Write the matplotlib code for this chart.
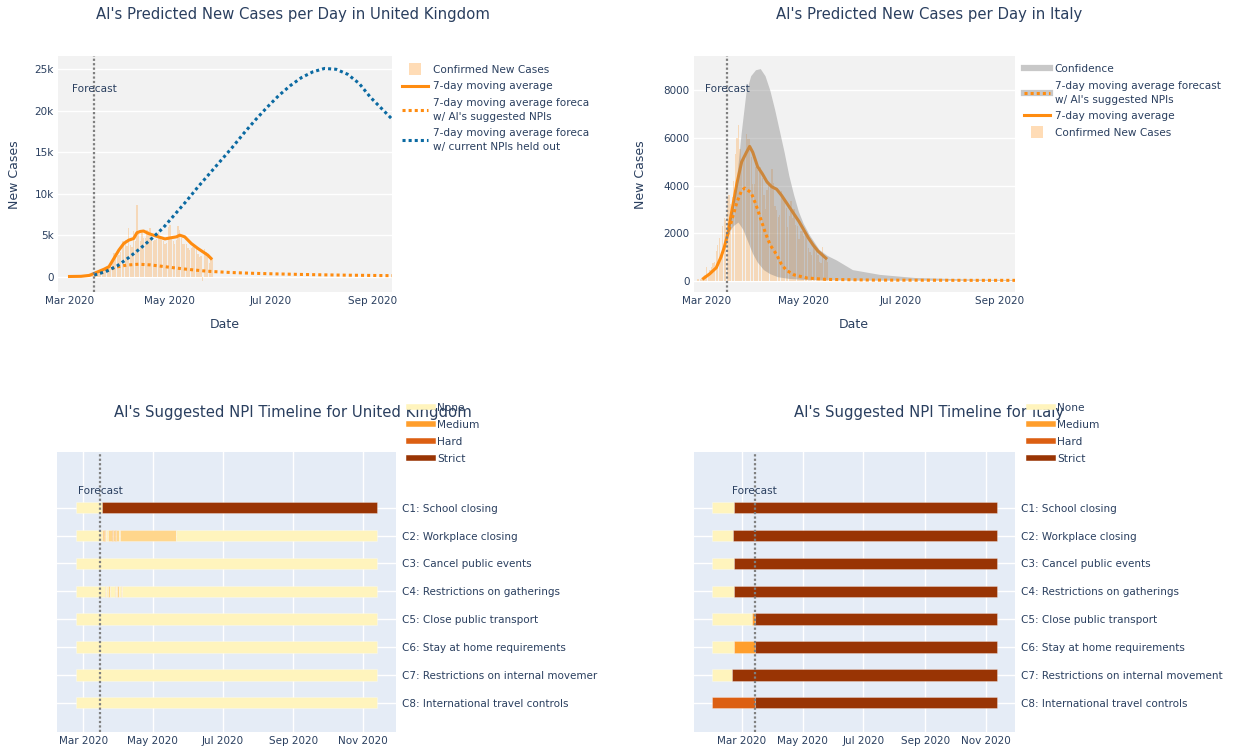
import numpy as np
import matplotlib
matplotlib.use("Agg")
import matplotlib.pyplot as plt
import matplotlib.dates as mdates
from matplotlib.lines import Line2D

plt.rcParams['font.family'] = ['DejaVu Sans']

# ---------------- data ----------------
# UK daily confirmed cases from 2020-03-01
uk_daily = [12, 4, 11, 34, 30, 48, 43, 67, 48, 52, 83, 134, 117, 208, 342, 251, 152, 407,
            680, 647, 706, 1035, 665, 967, 1427, 1452, 2129, 2885, 2546, 2433, 2619,
            3009, 4324, 4244, 4450, 3735, 5903, 3802, 3634, 5491, 4344, 8681, 5233, 4342,
            5252, 4603, 4617, 5599, 5525, 5850, 4676, 4301, 4451, 4583, 5386, 4913, 4463,
            4309, 3996, 4076, 6032,
            6201, 4806, 4339, 3985, 4406, 6111, 5614, 4649, 3896, 3923, 3877, 3403, 3242,
            3446, 3560, 3450, 3534, 2684, 2412, 2472, -525, 3287, 2959, 2409, 1625, 2415, 2086]
uk_ma_dates = ['2020-03-01', '2020-03-08', '2020-03-13', '2020-03-16', '2020-03-19', '2020-03-22',
               '2020-03-25', '2020-03-28', '2020-03-31', '2020-04-03', '2020-04-06', '2020-04-09',
               '2020-04-11', '2020-04-13', '2020-04-15', '2020-04-18', '2020-04-21', '2020-04-24',
               '2020-04-28', '2020-05-02', '2020-05-05', '2020-05-07', '2020-05-10', '2020-05-14',
               '2020-05-18', '2020-05-21', '2020-05-24', '2020-05-26']
uk_ma = [20, 40, 150, 400, 650, 900, 1200, 2200, 3200, 4000, 4400, 4600, 5300, 5450, 5500, 5200,
         5000, 4800, 4550, 4700, 4800, 5000, 4800, 4000, 3400, 3000, 2600, 2200]
uk_ai_dates = ['2020-03-16', '2020-03-22', '2020-03-29', '2020-04-05', '2020-04-12', '2020-04-19',
               '2020-04-26', '2020-05-03', '2020-05-10', '2020-05-17', '2020-05-24', '2020-06-07',
               '2020-06-21', '2020-07-05', '2020-07-19', '2020-08-02', '2020-08-16', '2020-08-30',
               '2020-09-13']
uk_ai = [200, 600, 1150, 1400, 1500, 1420, 1250, 1080, 920, 780, 650, 500, 400, 330, 270, 220,
         180, 150, 120]
uk_cur_dates = ['2020-03-16', '2020-03-23', '2020-03-30', '2020-04-06', '2020-04-13', '2020-04-20',
                '2020-04-27', '2020-05-04', '2020-05-11', '2020-05-18', '2020-05-25', '2020-06-01',
                '2020-06-08', '2020-06-15', '2020-06-22', '2020-06-29', '2020-07-06', '2020-07-13',
                '2020-07-20', '2020-07-27', '2020-08-03', '2020-08-10', '2020-08-17', '2020-08-24',
                '2020-08-31', '2020-09-07', '2020-09-13']
uk_cur = [200, 600, 1300, 2300, 3400, 4600, 5900, 7500, 9100, 10800, 12400, 14000, 15600, 17300,
          18900, 20400, 21800, 23000, 24000, 24700, 25100, 25000, 24400, 23300, 21600, 20200, 19000]

# Italy daily confirmed cases from 2020-02-24
it_daily = [78, 93, 97, 130, 200, 240,
            566, 342, 466, 587, 769, 778, 1247, 1492, 1797, 977, 2313, 2651, 2547, 3497, 3590,
            3233, 3526, 4207, 5322, 5986, 6557, 5560, 4789, 5249, 5210, 6153, 5959, 5974, 5217,
            4050, 4053,
            4782, 4668, 4585, 4805, 4316, 3599, 3039, 3836, 4204, 3951, 4694, 4092, 3153, 2972,
            2667, 2786, 3786, 3493, 3491, 3047, 2256, 2729, 3370, 2646, 3021, 2357, 2324, 1739,
            2091, 2086,
            1872, 1965, 1900, 1389, 1221, 1075, 1444, 1401, 1327, 1083, 802, 744, 1402, 888, 992, 789]
it_ma_dates = ['2020-02-28', '2020-03-03', '2020-03-07', '2020-03-10', '2020-03-12', '2020-03-14',
               '2020-03-17', '2020-03-20', '2020-03-23', '2020-03-26', '2020-03-28', '2020-03-30',
               '2020-04-02', '2020-04-05', '2020-04-08', '2020-04-11', '2020-04-14', '2020-04-17',
               '2020-04-20', '2020-04-22', '2020-04-25', '2020-04-28', '2020-05-01', '2020-05-04',
               '2020-05-07', '2020-05-10', '2020-05-15']
it_ma = [100, 300, 550, 1000, 1400, 1900, 3000, 4100, 5000, 5400, 5650, 5400, 4800, 4500, 4150,
         3950, 3850, 3600, 3300, 3100, 2800, 2500, 2150, 1800, 1500, 1250, 950]
it_ai_dates = ['2020-03-14', '2020-03-17', '2020-03-20', '2020-03-23', '2020-03-25', '2020-03-29',
               '2020-04-01', '2020-04-04', '2020-04-07', '2020-04-10', '2020-04-14', '2020-04-17',
               '2020-04-20', '2020-04-25', '2020-05-03', '2020-05-15', '2020-06-15', '2020-07-15',
               '2020-08-15', '2020-09-11']
it_ai = [1900, 2600, 3300, 3800, 3900, 3700, 3200, 2600, 2000, 1500, 1100, 700, 450, 250, 120,
         60, 30, 25, 20, 20]
it_lo_dates = ['2020-03-14', '2020-03-18', '2020-03-21', '2020-03-24', '2020-03-27', '2020-03-30',
               '2020-04-02', '2020-04-06', '2020-04-10', '2020-04-15', '2020-04-22', '2020-05-01',
               '2020-06-01', '2020-09-11']
it_lo = [1900, 2300, 2450, 2150, 1650, 1150, 780, 450, 280, 150, 80, 40, 10, 0]
it_hi_dates = ['2020-03-14', '2020-03-17', '2020-03-20', '2020-03-23', '2020-03-26', '2020-03-29',
               '2020-04-01', '2020-04-04', '2020-04-07', '2020-04-10', '2020-04-13', '2020-04-16',
               '2020-04-19', '2020-04-22', '2020-04-25', '2020-04-28', '2020-05-01', '2020-05-05',
               '2020-05-11', '2020-05-16', '2020-05-22', '2020-06-01', '2020-06-18', '2020-07-10',
               '2020-08-10', '2020-09-11']
it_hi = [2000, 2900, 4200, 6200, 7900, 8600, 8850, 8900, 8600, 8000, 7200, 6300, 5400, 4400, 3600,
         2900, 2400, 1900, 1300, 1050, 850, 450, 250, 120, 60, 30]

npi_names = ['C1: School closing', 'C2: Workplace closing', 'C3: Cancel public events',
             'C4: Restrictions on gatherings', 'C5: Close public transport',
             'C6: Stay at home requirements', 'C7: Restrictions on internal movement',
             'C8: International travel controls']
uk_npi_names = npi_names[:6] + ['C7: Restrictions on internal movemer'] + npi_names[7:]
levels = ['None', 'Low', 'Medium', 'Hard', 'Strict']
level_colors = ['#fff4bd', '#ffd68c', '#ff9e2c', '#dc5f12', '#993404']
legend_levels = ['None', 'Medium', 'Hard', 'Strict']

# each NPI: list of (start date, level); the last segment runs to the end date
uk_npi_end = '2020-11-13'
uk_npi = [
    [('2020-02-24', 'None'), ('2020-03-17', 'Strict')],
    [('2020-02-24', 'None'), ('2020-03-17', 'Low'), ('2020-03-19', 'Medium'), ('2020-03-20', 'Low'),
     ('2020-03-21', 'None'), ('2020-03-23', 'Low'), ('2020-03-26', 'Medium'), ('2020-03-27', 'Low'),
     ('2020-03-29', 'Medium'), ('2020-03-30', 'Low'), ('2020-04-01', 'None'), ('2020-04-02', 'Low'),
     ('2020-05-21', 'None')],
    [('2020-02-24', 'None')],
    [('2020-02-24', 'None'), ('2020-03-20', 'Low'), ('2020-03-21', 'None'), ('2020-03-23', 'Low'),
     ('2020-03-24', 'None'), ('2020-03-29', 'Low'), ('2020-03-30', 'None'), ('2020-03-31', 'Low'),
     ('2020-04-01', 'None'), ('2020-04-03', 'Low'), ('2020-04-04', 'None')],
    [('2020-02-24', 'None')],
    [('2020-02-24', 'None')],
    [('2020-02-24', 'None')],
    [('2020-02-24', 'None')],
]
it_npi_end = '2020-11-12'
it_npi = [
    [('2020-01-31', 'None'), ('2020-02-22', 'Strict')],
    [('2020-01-31', 'None'), ('2020-02-21', 'Strict')],
    [('2020-01-31', 'None'), ('2020-02-22', 'Strict')],
    [('2020-01-31', 'None'), ('2020-02-22', 'Strict')],
    [('2020-01-31', 'None'), ('2020-03-11', 'Medium'), ('2020-03-14', 'Strict')],
    [('2020-01-31', 'None'), ('2020-02-22', 'Medium'), ('2020-03-14', 'Strict')],
    [('2020-01-31', 'None'), ('2020-02-20', 'Strict')],
    [('2020-01-31', 'Hard'), ('2020-03-14', 'Strict')],
]

uk_forecast = '2020-03-16'
it_forecast = '2020-03-14'

# ---------------- style ----------------
TXT = '#2a3f5f'
ORANGE = '#ff8c10'
BLUE = '#0b6aa2'
GREYLINE = '#7f7f7f'
W, H = 1233, 751
fig = plt.figure(figsize=(W / 100, H / 100), dpi=100)


def box(l, t, r, b):
    return [l / W, 1 - b / H, (r - l) / W, (b - t) / H]


def dn(s):
    return mdates.date2num(np.datetime64(s))


def dlist(lst):
    return mdates.date2num(np.array(lst, dtype='datetime64[D]'))


def daily(start, n):
    return mdates.date2num(np.datetime64(start) + np.arange(n))


def base_style(ax, face, xlim, ticks, ticklabels):
    ax.set_facecolor(face)
    for s in ax.spines.values():
        s.set_visible(False)
    ax.set_xlim(dn(xlim[0]), dn(xlim[1]))
    ax.set_xticks(dlist(ticks))
    ax.set_xticklabels(ticklabels)
    ax.tick_params(length=0, labelsize=7.5, colors=TXT, pad=3)
    ax.set_axisbelow(True)


def forecast(ax, date):
    ax.axvline(dn(date), color=GREYLINE, lw=1.6, ls=(0, (1, 1)), zorder=5)
    ax.text(dn(date), 0.86, 'Forecast', transform=ax.get_xaxis_transform(),
            ha='center', va='center', fontsize=7.6, color=TXT, zorder=6)


top_ticks = ['2020-03-01', '2020-05-01', '2020-07-01', '2020-09-01']
top_labels = ['Mar 2020', 'May 2020', 'Jul 2020', 'Sep 2020']
bot_ticks = top_ticks + ['2020-11-01']
bot_labels = top_labels + ['Nov 2020']
dotted = (0, (1, 1))

# ---------------- UK cases ----------------
ax1 = fig.add_axes(box(58, 56, 392, 292))
base_style(ax1, '#f2f2f2', ('2020-02-23', '2020-09-13'), top_ticks, top_labels)
ax1.set_ylim(-1850, 26600)
ax1.set_yticks([0, 5000, 10000, 15000, 20000, 25000])
ax1.set_yticklabels(['0', '5k', '10k', '15k', '20k', '25k'])
ax1.grid(axis='y', color='white', lw=1)
ax1.bar(daily('2020-03-01', len(uk_daily)), uk_daily, width=0.8, color=ORANGE, alpha=0.25, lw=0)
ax1.plot(dlist(uk_ma_dates), uk_ma, color=ORANGE, lw=2.2)
ax1.plot(dlist(uk_ai_dates), uk_ai, color=ORANGE, lw=2.2, ls=dotted)
ax1.plot(dlist(uk_cur_dates), uk_cur, color=BLUE, lw=2.2, ls=dotted)
forecast(ax1, uk_forecast)

h_conf = Line2D([], [], marker='s', ms=8, ls='', color=ORANGE, alpha=0.3, mew=0)
h_ma = Line2D([], [], color=ORANGE, lw=2.2)
h_ai = Line2D([], [], color=ORANGE, lw=2.2, ls=dotted)
h_cur = Line2D([], [], color=BLUE, lw=2.2, ls=dotted)
leg1 = fig.legend([h_conf, h_ma, h_ai, h_cur],
                  ['Confirmed New Cases', '7-day moving average',
                   "7-day moving average foreca\nw/ AI's suggested NPIs",
                   '7-day moving average foreca\nw/ current NPIs held out'],
                  loc='upper left', bbox_to_anchor=(402 / W, 1 - 65 / H), frameon=False,
                  fontsize=7.6, handlelength=2.5, handletextpad=0.4, labelspacing=0.6,
                  borderpad=0, borderaxespad=0, labelcolor=TXT)

# ---------------- Italy cases ----------------
ax2 = fig.add_axes(box(694, 56, 1015, 292))
base_style(ax2, '#f2f2f2', ('2020-02-22', '2020-09-11'), top_ticks, top_labels)
ax2.set_ylim(-470, 9450)
ax2.set_yticks([0, 2000, 4000, 6000, 8000])
ax2.set_yticklabels(['0', '2000', '4000', '6000', '8000'])
ax2.grid(axis='y', color='white', lw=1)
ax2.bar(daily('2020-02-24', len(it_daily)), it_daily, width=0.8, color=ORANGE, alpha=0.25, lw=0)
ax2.plot(dlist(it_ma_dates), it_ma, color=ORANGE, lw=2.2, zorder=2)
band_x = np.concatenate([dlist(it_hi_dates), dlist(it_lo_dates)[::-1]])
band_y = np.concatenate([it_hi, it_lo[::-1]])
ax2.fill(band_x, band_y, color='#808080', alpha=0.4, lw=0, zorder=2.5)
ax2.plot(dlist(it_ai_dates), it_ai, color=ORANGE, lw=2.2, ls=dotted, zorder=3)
forecast(ax2, it_forecast)

h_band = Line2D([], [], color='#c8c8c8', lw=4.5)
leg2 = fig.legend([h_band, (h_band, h_ai), h_ma, h_conf],
                  ['Confidence', "7-day moving average forecast\nw/ AI's suggested NPIs",
                   '7-day moving average', 'Confirmed New Cases'],
                  loc='upper left', bbox_to_anchor=(1024 / W, 1 - 64 / H), frameon=False,
                  fontsize=7.6, handlelength=2.5, handletextpad=0.4, labelspacing=0.62,
                  borderpad=0, borderaxespad=0, labelcolor=TXT)
for lg in (leg1, leg2):
    for t in lg.get_texts():
        t.set_linespacing(1.5)

for cx in (225, 854):
    fig.text(cx / W, 1 - 325 / H, 'Date', ha='center', va='center', fontsize=9, color=TXT)
for cx in (14, 641):
    fig.text(cx / W, 1 - 175 / H, 'New Cases', rotation=90, ha='center', va='center',
             fontsize=9, color=TXT)
fig.text(293 / W, 1 - 14 / H, "AI's Predicted New Cases per Day in United Kingdom",
         ha='center', va='center', fontsize=10.7, color=TXT)
fig.text(929 / W, 1 - 14 / H, "AI's Predicted New Cases per Day in Italy",
         ha='center', va='center', fontsize=10.7, color=TXT)


# ---------------- NPI timelines ----------------
def timeline(ax, npi, end, names, xlim, fdate):
    base_style(ax, '#e5ecf6', xlim, bot_ticks, bot_labels)
    ax.grid(color='white', lw=1)
    for row, segs in enumerate(npi):
        for i, (start, lvl) in enumerate(segs):
            stop = segs[i + 1][0] if i + 1 < len(segs) else end
            ax.barh(row, dn(stop) - dn(start), left=dn(start), height=0.41,
                    color=level_colors[levels.index(lvl)], edgecolor=(1, 1, 1, 0.35), lw=0.6)
    ax.set_ylim(8.05, -2.0)
    ax.set_yticks(range(len(names)))
    ax.set_yticklabels(names)
    ax.yaxis.tick_right()
    ax.tick_params(axis='y', pad=4)
    forecast(ax, fdate)


ax3 = fig.add_axes(box(57, 452, 396, 732))
timeline(ax3, uk_npi, uk_npi_end, uk_npi_names, ('2020-02-07', '2020-11-30'), uk_forecast)
ax4 = fig.add_axes(box(694, 452, 1015, 732))
timeline(ax4, it_npi, it_npi_end, npi_names, ('2020-01-13', '2020-11-30'), it_forecast)

fig.text(293 / W, 1 - 412 / H, "AI's Suggested NPI Timeline for United Kingdom",
         ha='center', va='center', fontsize=10.7, color=TXT)
fig.text(929 / W, 1 - 412 / H, "AI's Suggested NPI Timeline for Italy",
         ha='center', va='center', fontsize=10.7, color=TXT)

lvl_handles = [Line2D([], [], color=level_colors[levels.index(l)], lw=4) for l in legend_levels]
for x0 in (409, 1029):
    fig.legend(lvl_handles, legend_levels, loc='upper left', bbox_to_anchor=(x0 / W, 1 - 403 / H),
               frameon=False, fontsize=7.6, handlelength=2.3, handletextpad=0.4,
               labelspacing=0.66, borderpad=0, borderaxespad=0, labelcolor=TXT)

fig.savefig('out.png', dpi=100)
